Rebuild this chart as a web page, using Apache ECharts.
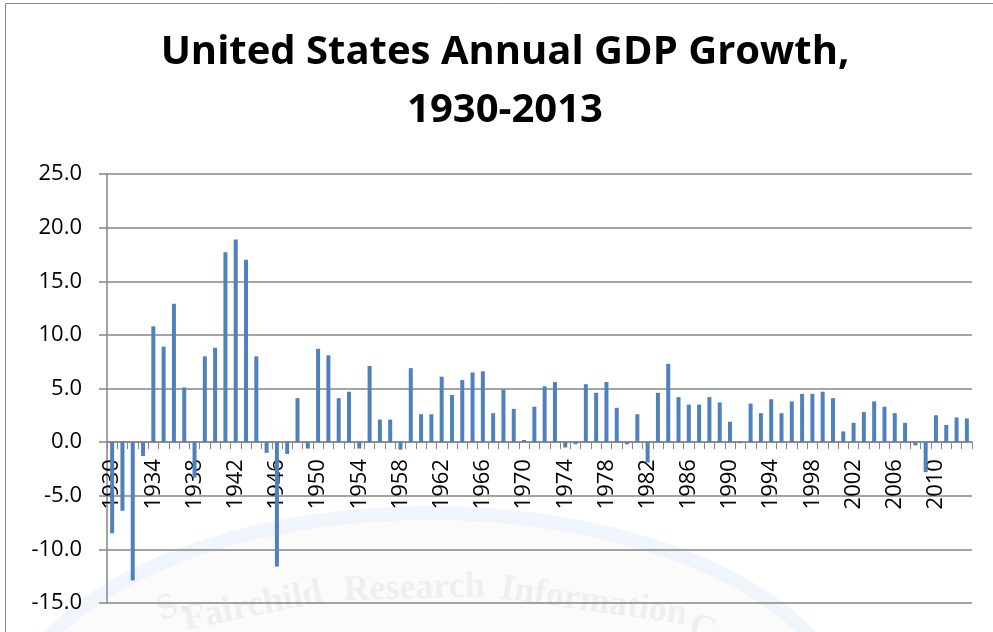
<!DOCTYPE html>
<html>
<head>
<meta charset="utf-8">
<script src="https://cdn.jsdelivr.net/npm/echarts@6/dist/echarts.min.js"></script>
<style>html,body{margin:0;padding:0;background:#fff}#c{width:993px;height:632px}</style>
</head>
<body>
<div id="c"></div>
<script>
const years = [];
for (let y = 1930; y <= 2013; y++) years.push(String(y));
const growth = [
  -8.5, -6.4, -12.9, -1.3, 10.8, 8.9, 12.9, 5.1, -3.3, 8.0,
  8.8, 17.7, 18.9, 17.0, 8.0, -1.0, -11.6, -1.1, 4.1, -0.6,
  8.7, 8.1, 4.1, 4.7, -0.6, 7.1, 2.1, 2.1, -0.7, 6.9,
  2.6, 2.6, 6.1, 4.4, 5.8, 6.5, 6.6, 2.7, 4.9, 3.1,
  0.2, 3.3, 5.2, 5.6, -0.5, -0.2, 5.4, 4.6, 5.6, 3.2,
  -0.2, 2.6, -1.9, 4.6, 7.3, 4.2, 3.5, 3.5, 4.2, 3.7,
  1.9, -0.1, 3.6, 2.7, 4.0, 2.7, 3.8, 4.5, 4.5, 4.7,
  4.1, 1.0, 1.8, 2.8, 3.8, 3.3, 2.7, 1.8, -0.3, -2.8,
  2.5, 1.6, 2.3, 2.2
];
const titleText = 'United States Annual GDP Growth,\n1930-2013';
const yMin = -15, yMax = 25, yStep = 5;

const gridTop = 174, gridBottom = 29, H = 632;
const plotH = H - gridTop - gridBottom;
// shift x axis line up to the zero value
const zeroOffset = -plotH * (0 - yMin) / (yMax - yMin);

const wmFill = 'rgba(110,120,140,0.085)';
const wmFont = 'bold 36px "Liberation Serif"';

const chart = echarts.init(document.getElementById('c'));
chart.setOption({
  animation: false,
  backgroundColor: '#fff',
  graphic: [
    { type: 'ellipse', shape: { cx: 430, cy: 735, rx: 425, ry: 222 },
      style: { fill: '#fbfbfc', stroke: 'rgba(238,243,251,0.8)', lineWidth: 14 },
      silent: true, z: -20 },
    { type: 'rect', shape: { x: 5.5, y: 3.5, width: 1000, height: 700 }, style: { fill: null, stroke: '#888', lineWidth: 1 }, silent: true, z: -10 },
    { type: 'text', x: 151, y: 596, rotation: 0.42, style: { text: 'S.', font: wmFont, fill: wmFill }, silent: true, z: -5 },
    { type: 'text', x: 180, y: 603, rotation: 0.2, style: { text: 'Fairchild', font: wmFont, fill: wmFill }, silent: true, z: -5 },
    { type: 'text', x: 343, y: 573, rotation: 0.03, style: { text: 'Research', font: wmFont, fill: wmFill }, silent: true, z: -5 },
    { type: 'text', x: 503, y: 571, rotation: -0.14, style: { text: 'Information', font: wmFont, fill: wmFill }, silent: true, z: -5 },
    { type: 'text', x: 696, y: 608, rotation: -0.35, style: { text: 'C', font: wmFont, fill: wmFill }, silent: true, z: -5 },
    { type: 'text', x: 505, y: 24, style: { text: titleText, textAlign: 'center', textVerticalAlign: 'top',
      font: 'bold 40px "Open Sans"', lineHeight: 58, fill: '#000' }, silent: true, z: 10 }
  ],
  grid: { left: 107, right: 21, top: gridTop, bottom: gridBottom, containLabel: false, outerBoundsMode: 'none' },
  xAxis: {
    type: 'category',
    data: years,
    offset: zeroOffset,
    axisLine: { onZero: false, lineStyle: { color: '#868686', width: 1.5 } },
    axisTick: { show: true, interval: 0, length: 7, lineStyle: { color: '#868686' } },
    axisLabel: { interval: 3, rotate: 90, fontFamily: 'Open Sans', fontSize: 22, color: '#000', margin: 17 },
    splitLine: { show: false }
  },
  yAxis: {
    type: 'value',
    min: yMin, max: yMax, interval: yStep,
    axisLine: { show: true, lineStyle: { color: '#868686', width: 1.5 } },
    axisTick: { show: true, length: 8, lineStyle: { color: '#868686', width: 1.5 } },
    axisLabel: { formatter: v => v.toFixed(1), fontFamily: 'Open Sans', fontSize: 22, color: '#000', margin: 25 },
    splitLine: { show: true, lineStyle: { color: '#868686', width: 1.5 } }
  },
  series: [{
    type: 'bar',
    data: growth,
    barWidth: 4,
    z: 3,
    itemStyle: { color: '#4F81BD' }
  }]
});
</script>
</body>
</html>
